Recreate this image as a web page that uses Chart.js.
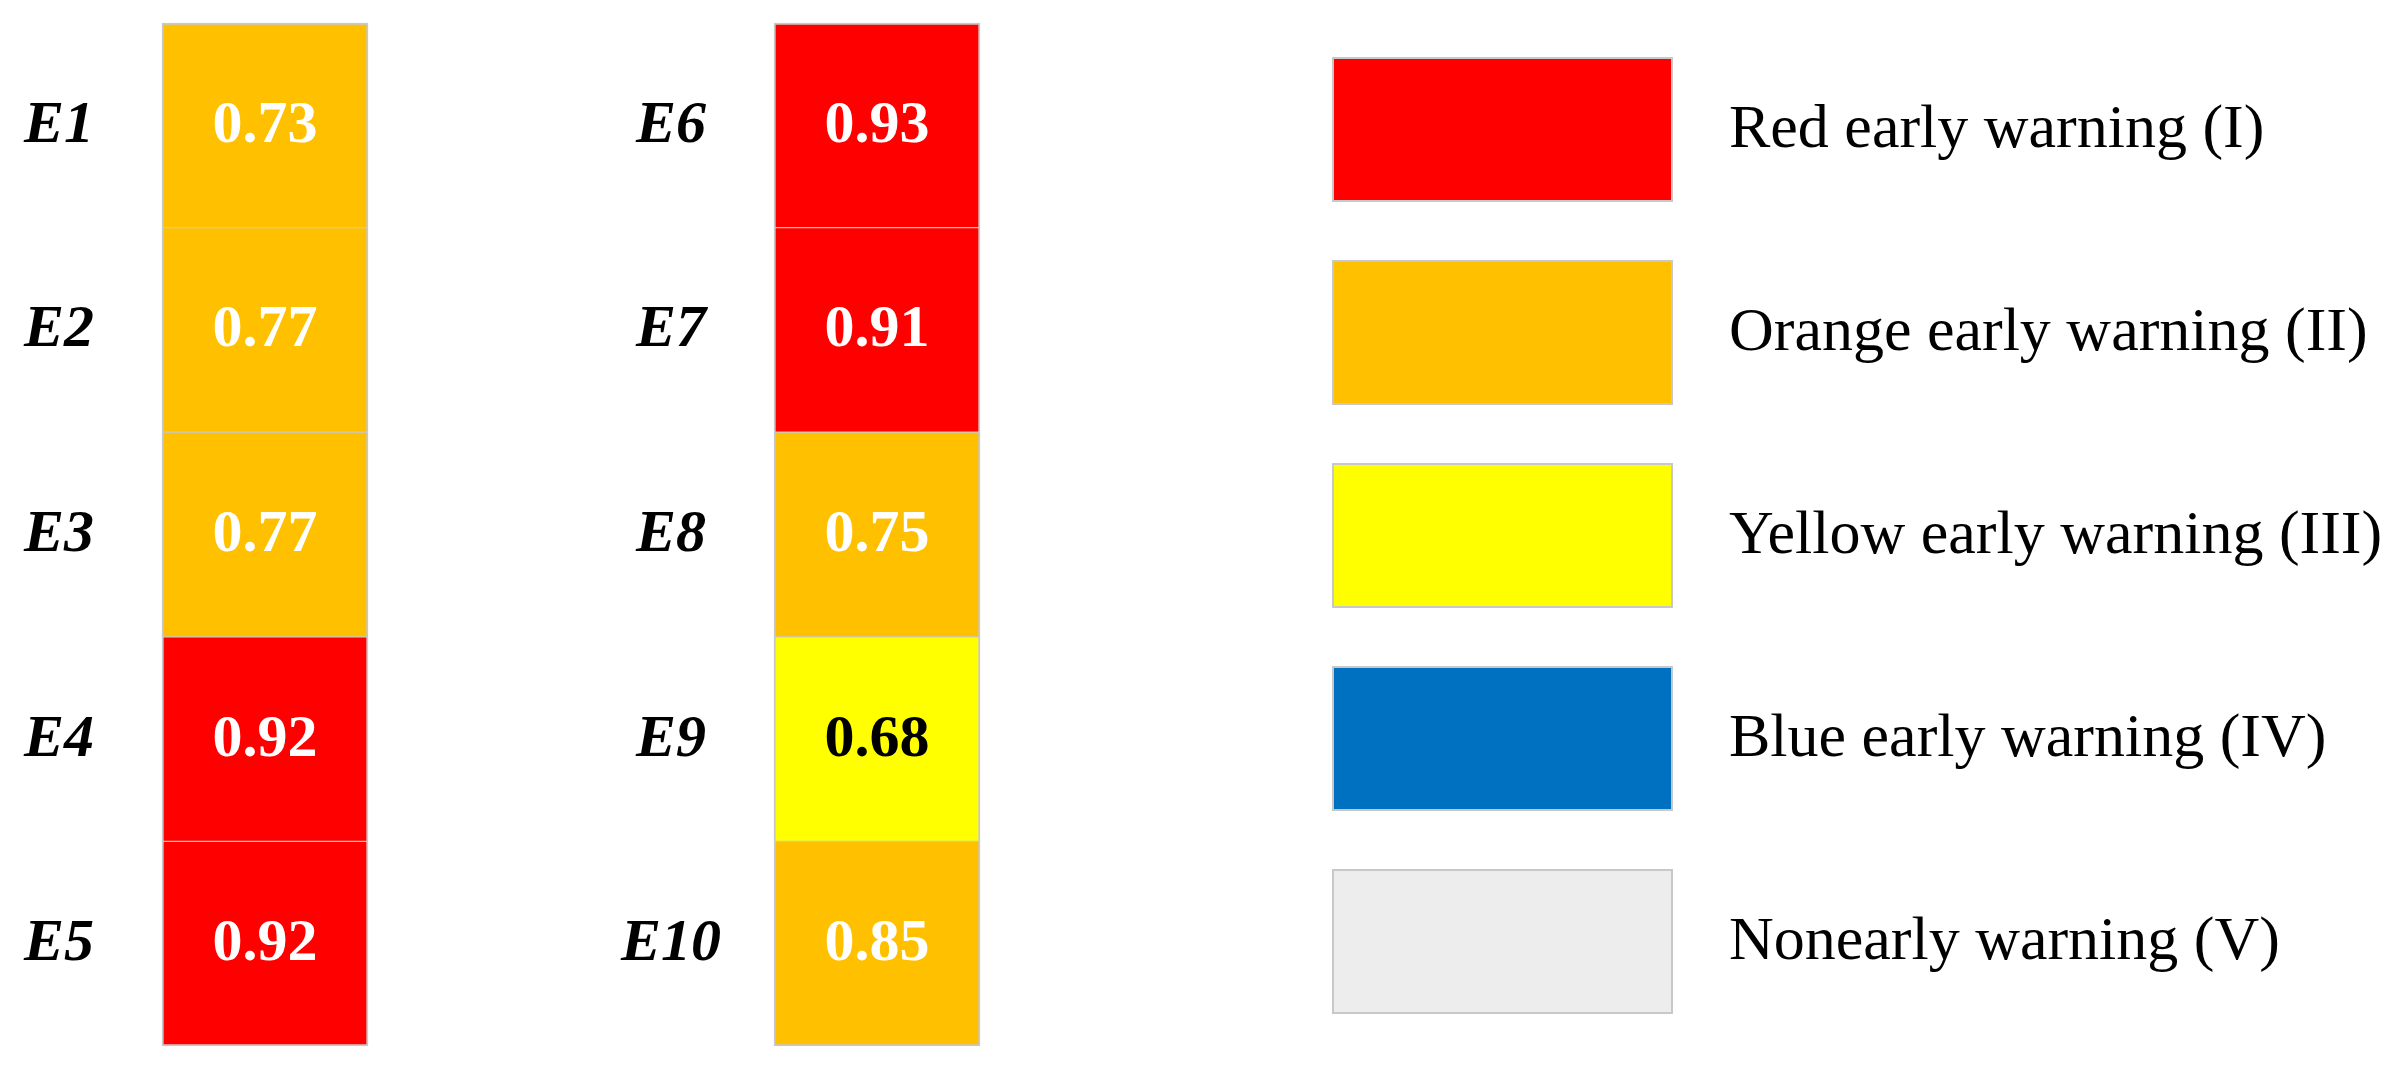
<!DOCTYPE html>
<html lang="en">
<head>
    <meta charset="UTF-8">
    <title>Early warning levels</title>
    <style>
        * {
            margin: 0;
            padding: 0;
            box-sizing: border-box;
        }

        body {
            background: #fff;
            width: 2404px;
            height: 1069px;
            overflow: hidden;
        }

        #warningChart {
            display: block;
        }
    </style>
</head>
<body>

    <canvas id="warningChart" width="2404" height="1069"></canvas>

    <script src="https://cdn.jsdelivr.net/npm/chart.js"></script>
    <script>
        // Dados: indicadores, valores e nível de alerta (0 = I ... 4 = V)
        const columns = ['E1-E5', 'E6-E10'];
        const indicators = ['E1', 'E2', 'E3', 'E4', 'E5', 'E6', 'E7', 'E8', 'E9', 'E10'];
        const scores = [0.73, 0.77, 0.77, 0.92, 0.92, 0.93, 0.91, 0.75, 0.68, 0.85];
        const levels = [1, 1, 1, 0, 0, 0, 0, 1, 2, 1];
        const levelNames = ['Red early warning (I)', 'Orange early warning (II)', 'Yellow early warning (III)', 'Blue early warning (IV)', 'Nonearly warning (V)'];
        const levelColors = ['#FF0000', '#FFC000', '#FFFF00', '#0070C0', '#EDEDED'];

        const rowsPerColumn = 5;
        const cellBorder = '#C8C8C8';
        const serif = '"Liberation Serif", "Times New Roman", serif';

        // uma série por linha, cada coluna é uma categoria do eixo x
        const datasets = [];
        for (let r = 0; r < rowsPerColumn; r++) {
            const idx = columns.map((c, col) => col * rowsPerColumn + r);
            datasets.push({
                label: 'row ' + (r + 1),
                data: idx.map(() => 1),
                indicators: idx.map(i => indicators[i]),
                scores: idx.map(i => scores[i]),
                backgroundColor: idx.map(i => levelColors[levels[i]]),
                textColors: idx.map(i => levels[i] === 2 ? '#000' : '#fff'),
                borderColor: cellBorder,
                borderWidth: {
                    left: 2,
                    right: 2,
                    top: r === 0 ? 2 : 1,
                    bottom: r === rowsPerColumn - 1 ? 2 : 1
                },
                borderSkipped: false,
                clip: false
            });
        }

        // textos das células e rótulos E1..E10
        const cellText = {
            id: 'cellText',
            afterDatasetsDraw(chart) {
                const ctx = chart.ctx;
                ctx.save();
                ctx.textAlign = 'center';
                ctx.textBaseline = 'middle';
                chart.data.datasets.forEach((ds, d) => {
                    chart.getDatasetMeta(d).data.forEach((bar, i) => {
                        const c = bar.getCenterPoint();
                        ctx.font = 'bold 60px ' + serif;
                        ctx.fillStyle = ds.textColors[i];
                        ctx.fillText(ds.scores[i].toFixed(2), c.x, c.y + 1);
                        ctx.font = 'italic bold 60px ' + serif;
                        ctx.fillStyle = '#000';
                        ctx.fillText(ds.indicators[i], c.x - 206, c.y + 1);
                    });
                });
                ctx.restore();
            }
        };

        // legenda à direita
        const warningLegend = {
            id: 'warningLegend',
            afterDraw(chart, args, opts) {
                const ctx = chart.ctx;
                ctx.save();
                ctx.font = '62px ' + serif;
                ctx.textBaseline = 'middle';
                ctx.textAlign = 'left';
                levelNames.forEach((name, i) => {
                    const y = opts.top + i * opts.step;
                    ctx.fillStyle = levelColors[i];
                    ctx.fillRect(opts.x, y, opts.boxW, opts.boxH);
                    ctx.strokeStyle = cellBorder;
                    ctx.lineWidth = 2;
                    ctx.strokeRect(opts.x + 1, y + 1, opts.boxW - 2, opts.boxH - 2);
                    ctx.fillStyle = '#000';
                    ctx.fillText(name, opts.x + opts.boxW + opts.gap, y + opts.boxH / 2 + 1);
                });
                ctx.restore();
            }
        };

        new Chart(document.getElementById('warningChart'), {
            type: 'bar',
            data: {
                labels: columns,
                datasets: datasets
            },
            options: {
                responsive: false,
                devicePixelRatio: 1,
                animation: false,
                barThickness: 206,
                layout: {
                    padding: { left: 265, right: 1527, top: 23, bottom: 23 }
                },
                scales: {
                    x: {
                        type: 'category',
                        offset: false,
                        stacked: true,
                        display: false
                    },
                    y: {
                        type: 'linear',
                        min: 0,
                        max: rowsPerColumn,
                        reverse: true,
                        stacked: true,
                        display: false
                    }
                },
                plugins: {
                    legend: { display: false },
                    tooltip: { enabled: false },
                    warningLegend: { x: 1332, top: 57, step: 203, boxW: 341, boxH: 145, gap: 56 }
                }
            },
            plugins: [cellText, warningLegend]
        });
    </script>

</body>
</html>
